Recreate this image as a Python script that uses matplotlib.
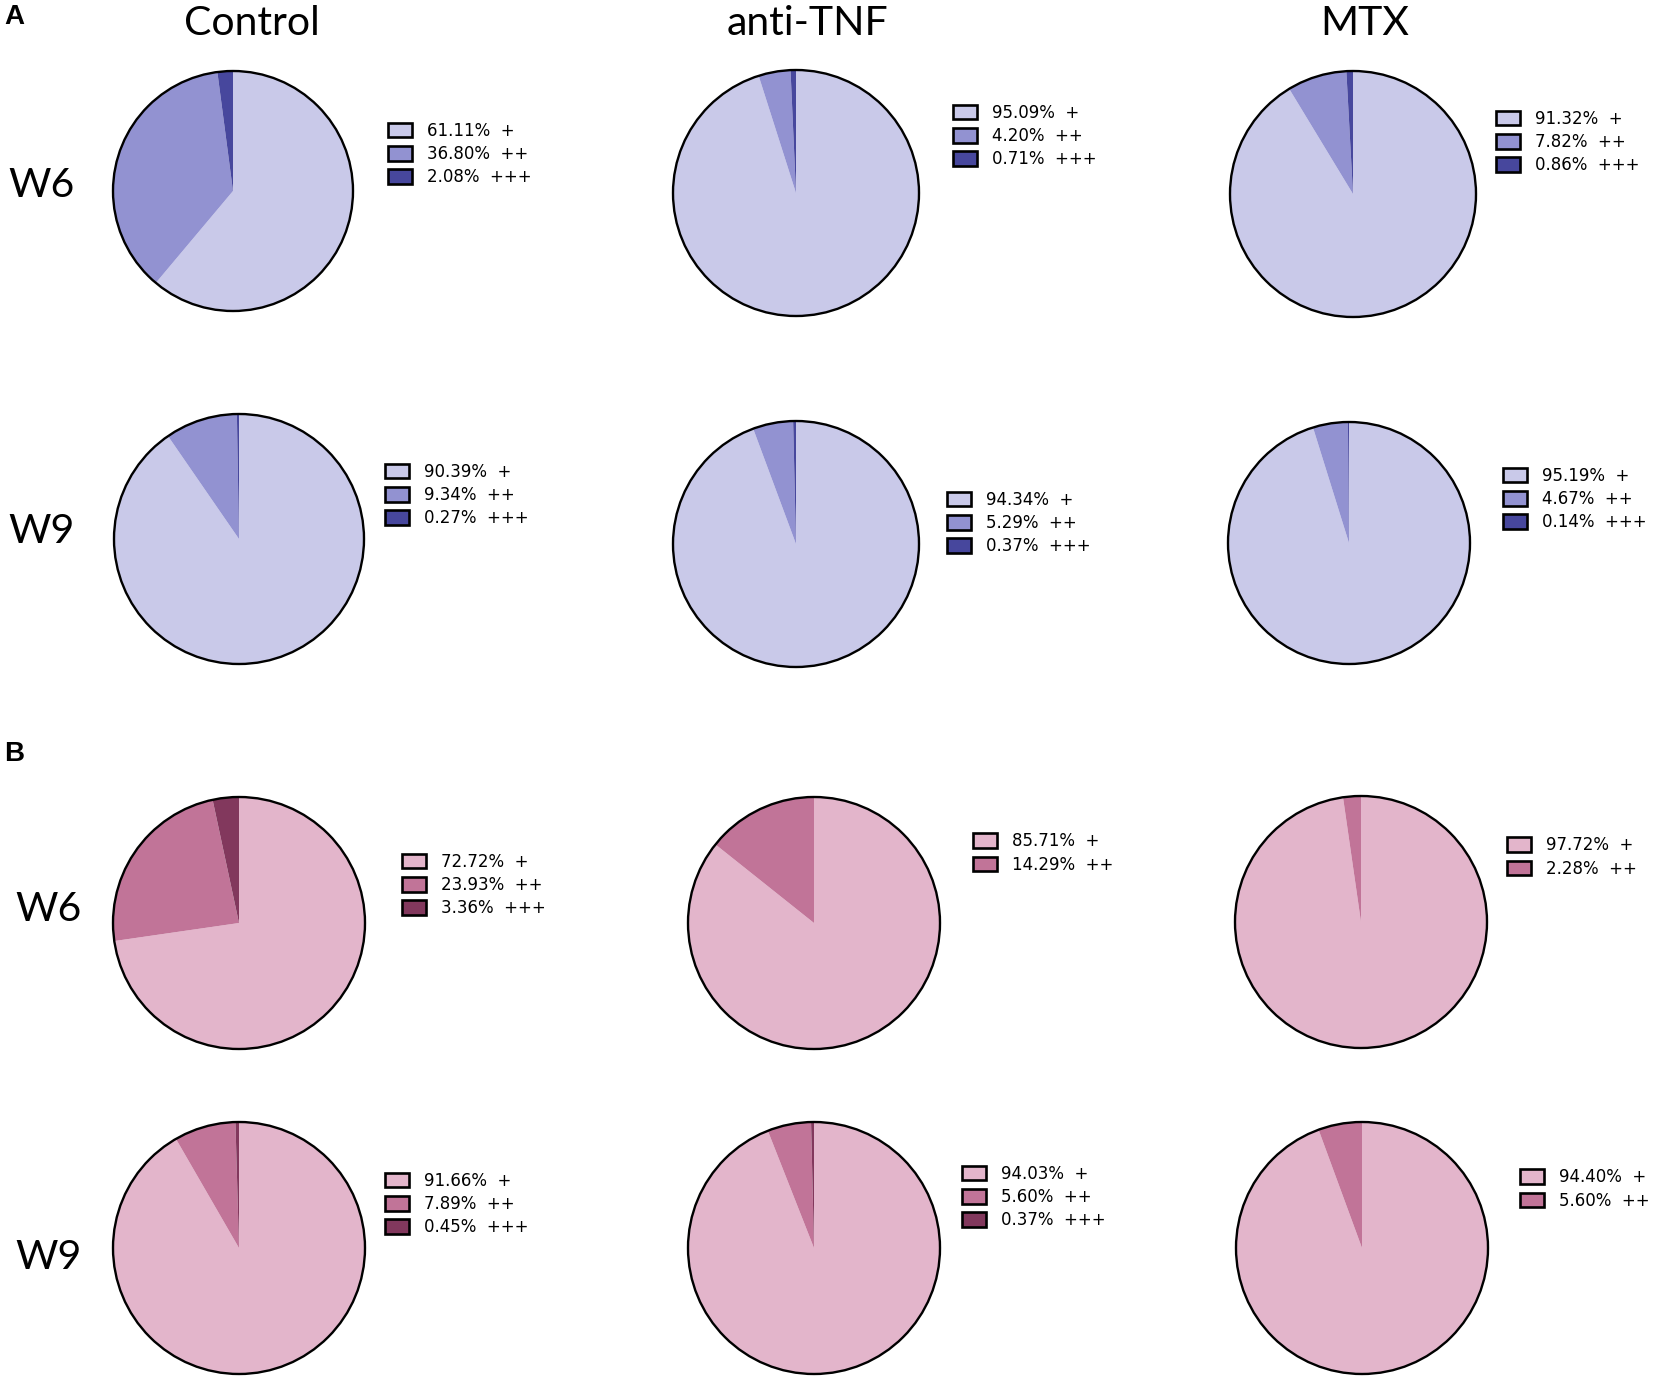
import matplotlib.pyplot as plt
from matplotlib.patches import Patch, Circle

W, H = 1654, 1381

groups = ["Control", "anti-TNF", "MTX"]
weeks = ["W6", "W9"]
grades = ["+", "++", "+++"]

# panel A
a_w6_control = [61.11, 36.80, 2.08]
a_w6_antitnf = [95.09, 4.20, 0.71]
a_w6_mtx = [91.32, 7.82, 0.86]
a_w9_control = [90.39, 9.34, 0.27]
a_w9_antitnf = [94.34, 5.29, 0.37]
a_w9_mtx = [95.19, 4.67, 0.14]

# panel B
b_w6_control = [72.72, 23.93, 3.36]
b_w6_antitnf = [85.71, 14.29]
b_w6_mtx = [97.72, 2.28]
b_w9_control = [91.66, 7.89, 0.45]
b_w9_antitnf = [94.03, 5.60, 0.37]
b_w9_mtx = [94.40, 5.60]

blues = ["#c9c9e9", "#9292d1", "#47479d"]
pinks = ["#e3b5cb", "#c17498", "#82385d"]

# layout in pixels: (pie centre x, centre y, radius, legend x, legend centre y)
layout = [
    (a_w6_control, blues, 233, 191, 120, 388, 154),
    (a_w6_antitnf, blues, 796, 193, 123, 953, 136),
    (a_w6_mtx, blues, 1353, 194, 123, 1496, 142),
    (a_w9_control, blues, 239, 539, 125, 385, 495),
    (a_w9_antitnf, blues, 796, 544, 123, 947, 523),
    (a_w9_mtx, blues, 1349, 543, 121, 1503, 499),
    (b_w6_control, pinks, 239, 923, 126, 402, 885),
    (b_w6_antitnf, pinks, 814, 923, 126, 973, 853),
    (b_w6_mtx, pinks, 1361, 922, 126, 1507, 857),
    (b_w9_control, pinks, 239, 1248, 126, 385, 1204),
    (b_w9_antitnf, pinks, 814, 1248, 126, 962, 1197),
    (b_w9_mtx, pinks, 1362, 1248, 126, 1520, 1189),
]


def fx(x):
    return x / W


def fy(y):
    return 1 - y / H


fig = plt.figure(figsize=(W / 100, H / 100), dpi=100)

for vals, cols, cx, cy, r, lx, ly in layout:
    pad = 1.03
    ax = fig.add_axes([fx(cx - r * pad), fy(cy + r * pad), 2 * r * pad / W, 2 * r * pad / H])
    wedges, _ = ax.pie(vals, colors=cols[:len(vals)], startangle=90, counterclock=False,
                       radius=1, wedgeprops=dict(linewidth=0))
    ax.add_patch(Circle((0, 0), 1, fill=False, edgecolor="black", linewidth=1.7))
    ax.set_xlim(-pad, pad)
    ax.set_ylim(-pad, pad)
    ax.set_aspect("equal")
    ax.axis("off")

    handles = [Patch(facecolor=c, edgecolor="black", linewidth=1.9) for c in cols[:len(vals)]]
    labels = [f"{v:.2f}%  {g}" for v, g in zip(vals, grades)]
    fig.legend(handles, labels, loc="center left", bbox_to_anchor=(fx(lx), fy(ly)),
               frameon=False, borderpad=0, borderaxespad=0,
               handlelength=1.42, handleheight=0.98, handletextpad=0.9,
               labelspacing=0.31, prop={"family": "DejaVu Sans", "size": 12})

# column titles
for name, x in zip(groups, [252, 808, 1365]):
    fig.text(fx(x), fy(35), name, ha="center", va="baseline", fontsize=29.5, family="Lato")

# row labels
for name, x, y in [("W6", 8, 197), ("W9", 8, 543), ("W6", 15, 921), ("W9", 15, 1269)]:
    fig.text(fx(x), fy(y), name, ha="left", va="baseline", fontsize=29.5, family="Lato")

# panel letters
fig.text(fx(4), fy(24), "A", ha="left", va="baseline", fontsize=20, fontweight="bold",
         family="Liberation Sans")
fig.text(fx(4), fy(761), "B", ha="left", va="baseline", fontsize=20, fontweight="bold",
         family="Liberation Sans")

fig.savefig("out.png", dpi=100)
